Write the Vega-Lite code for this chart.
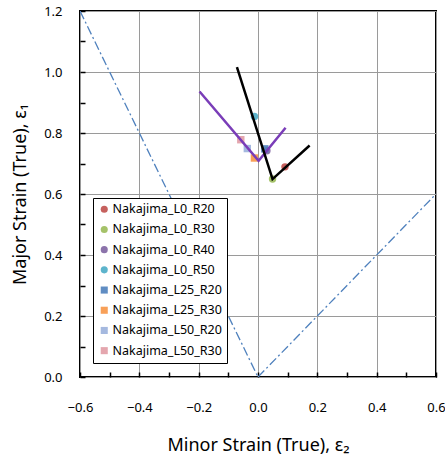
{
  "$schema": "https://vega.github.io/schema/vega-lite/v6.json",
  "width": 356,
  "height": 366,
  "autosize": {"type": "none"},
  "padding": {"left": 80, "top": 11, "right": 9, "bottom": 85},
  "background": "white",
  "config": {
    "view": {"stroke": "black", "strokeWidth": 2},
    "font": "Noto Sans",
    "axis": {"labelFont": "Noto Sans", "titleFont": "Noto Sans", "labelColor": "black", "titleColor": "black", "titleFontWeight": "normal"}
  },
  "datasets": {
    "ref": [
      {"x": -0.6, "y": 1.2, "seg": "a"},
      {"x": 0.0, "y": 0.0, "seg": "a"},
      {"x": 0.0, "y": 0.0, "seg": "b"},
      {"x": 0.6, "y": 0.6, "seg": "b"}
    ],
    "black": [
      {"x": -0.071, "y": 1.016, "o": 1},
      {"x": 0.049, "y": 0.649, "o": 2},
      {"x": 0.174, "y": 0.759, "o": 3}
    ],
    "purple": [
      {"x": -0.197, "y": 0.936, "o": 1},
      {"x": 0.002, "y": 0.709, "o": 2},
      {"x": 0.093, "y": 0.817, "o": 3}
    ],
    "pts": [
      {"series": "Nakajima_L0_R20", "x": 0.091, "y": 0.689},
      {"series": "Nakajima_L0_R30", "x": 0.049, "y": 0.649},
      {"series": "Nakajima_L0_R40", "x": 0.03, "y": 0.742},
      {"series": "Nakajima_L0_R50", "x": -0.012, "y": 0.854},
      {"series": "Nakajima_L25_R20", "x": 0.023, "y": 0.748},
      {"series": "Nakajima_L25_R30", "x": -0.012, "y": 0.718},
      {"series": "Nakajima_L50_R20", "x": -0.036, "y": 0.749},
      {"series": "Nakajima_L50_R30", "x": -0.058, "y": 0.778}
    ]
  },
  "layer": [
    {
      "data": {"name": "ref"},
      "mark": {"type": "line", "color": "#4F81BD", "strokeWidth": 1.3, "strokeDash": [9, 3, 2, 3], "clip": true},
      "encoding": {
        "x": {"field": "x", "type": "quantitative", "scale": {"domain": [-0.6, 0.6], "nice": false, "zero": false},
          "axis": {"orient": "bottom", "values": [-0.6, -0.4, -0.2, 0, 0.2, 0.4, 0.6], "format": ".1f", "grid": true, "gridColor": "#9a9a9a", "gridWidth": 1, "gridOpacity": 1, "ticks": false, "domain": false, "labelFontSize": 13, "labelPadding": 24, "title": "Minor Strain (True), ε₂", "titleFontSize": 18, "titlePadding": 22, "labelFlush": false}},
        "y": {"field": "y", "type": "quantitative", "scale": {"domain": [0, 1.2], "nice": false},
          "axis": {"orient": "left", "values": [0, 0.2, 0.4, 0.6, 0.8, 1.0, 1.2], "format": ".1f", "grid": true, "gridColor": "#9a9a9a", "gridWidth": 1, "gridOpacity": 1, "ticks": false, "domain": false, "labelFontSize": 13, "labelPadding": 18, "title": "Major Strain (True), ε₁", "titleFontSize": 18, "titlePadding": 14, "labelFlush": false}},
        "detail": {"field": "seg"}
      }
    },
    {
      "data": {"name": "pts"},
      "mark": {"type": "point", "filled": true, "opacity": 0.9, "size": 55},
      "encoding": {
        "x": {"field": "x", "type": "quantitative",
          "axis": {"orient": "bottom", "values": [-0.6, -0.5, -0.4, -0.3, -0.2, -0.1, 0, 0.1, 0.2, 0.3, 0.4, 0.5, 0.6], "grid": false, "labels": false, "title": null, "domain": false, "tickSize": -5, "tickColor": "black", "tickWidth": 1.5}},
        "y": {"field": "y", "type": "quantitative",
          "axis": {"orient": "left", "values": [0, 0.1, 0.2, 0.3, 0.4, 0.5, 0.6, 0.7, 0.8, 0.9, 1.0, 1.1, 1.2], "grid": false, "labels": false, "title": null, "domain": false, "tickSize": -5, "tickColor": "black", "tickWidth": 1.5}},
        "color": {"field": "series", "type": "nominal",
          "scale": {"domain": ["Nakajima_L0_R20", "Nakajima_L0_R30", "Nakajima_L0_R40", "Nakajima_L0_R50", "Nakajima_L25_R20", "Nakajima_L25_R30", "Nakajima_L50_R20", "Nakajima_L50_R30"],
            "range": ["#C0504D", "#9BBB59", "#8064A2", "#4BACC6", "#4F81BD", "#F79646", "#9BB1DB", "#E19CA5"]},
          "legend": {"orient": "none", "legendX": 13, "legendY": 187, "title": null, "strokeColor": "black", "fillColor": "white", "padding": 5, "labelFontSize": 12.5, "labelFont": "Noto Sans", "labelColor": "black", "labelLimit": 200, "labelOffset": 2, "rowPadding": 7.2, "symbolSize": 50, "symbolOpacity": 0.9, "symbolStrokeWidth": 0}},
        "shape": {"field": "series", "type": "nominal",
          "scale": {"domain": ["Nakajima_L0_R20", "Nakajima_L0_R30", "Nakajima_L0_R40", "Nakajima_L0_R50", "Nakajima_L25_R20", "Nakajima_L25_R30", "Nakajima_L50_R20", "Nakajima_L50_R30"],
            "range": ["circle", "circle", "circle", "circle", "square", "square", "square", "square"]},
          "legend": {"orient": "none", "legendX": 13, "legendY": 187, "title": null, "strokeColor": "black", "fillColor": "white", "padding": 5, "labelFontSize": 12.5, "labelFont": "Noto Sans", "labelColor": "black", "labelLimit": 200, "labelOffset": 2, "rowPadding": 7.2, "symbolSize": 50, "symbolOpacity": 0.9, "symbolStrokeWidth": 0}}
      }
    },
    {
      "data": {"name": "purple"},
      "mark": {"type": "line", "color": "#7A3DB8", "strokeWidth": 2.5},
      "encoding": {
        "x": {"field": "x", "type": "quantitative", "axis": null},
        "y": {"field": "y", "type": "quantitative", "axis": null},
        "order": {"field": "o"}
      }
    },
    {
      "data": {"name": "black"},
      "mark": {"type": "line", "color": "black", "strokeWidth": 2.5},
      "encoding": {
        "x": {"field": "x", "type": "quantitative", "axis": null},
        "y": {"field": "y", "type": "quantitative", "axis": null},
        "order": {"field": "o"}
      }
    }
  ],
  "resolve": {"axis": {"x": "independent", "y": "independent"}}
}
